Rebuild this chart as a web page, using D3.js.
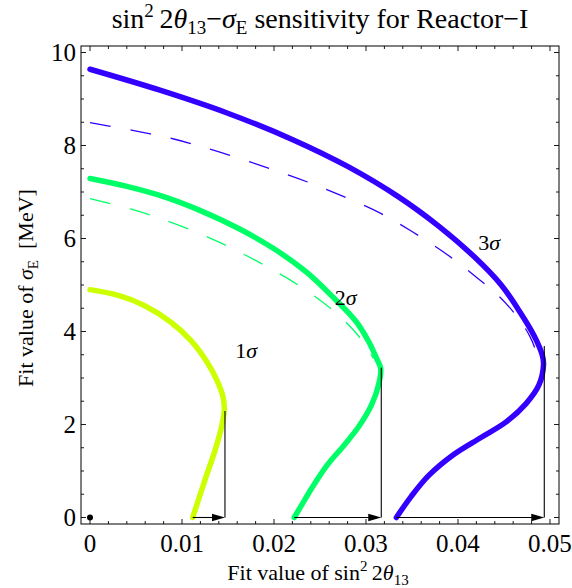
<!DOCTYPE html>
<html>
<head>
<meta charset="utf-8">
<script src="https://cdn.jsdelivr.net/npm/d3@7"></script>
<style>
  body { margin: 0; background: #fff; }
</style>
</head>
<body>
<div id="chart"></div>
<script>
// curves: [sin^2 2theta13, sigma_E]
const sig1 = [[0, 4.9], [0.003, 4.78], [0.006, 4.55], [0.0088, 4.2], [0.011, 3.8], [0.0127, 3.35], [0.0138, 2.95], [0.01445, 2.6], [0.0146, 2.32], [0.0143, 1.95], [0.0136, 1.45], [0.0125, 0.81], [0.01116, 0]]
const sig2 = [[0, 7.29], [0.004, 7.12], [0.008, 6.9], [0.012, 6.6], [0.016, 6.23], [0.02, 5.78], [0.0235, 5.28], [0.0263, 4.76], [0.0289, 4.22], [0.0303, 3.78], [0.0312, 3.4], [0.0316, 3.2], [0.0314, 2.88], [0.0306, 2.42], [0.0292, 1.95], [0.0276, 1.55], [0.0258, 1.13], [0.0242, 0.66], [0.0231, 0.3], [0.0222, 0]]
const sig3 = [[0, 9.64], [0.0076, 9.19], [0.0149, 8.7], [0.0221, 8.12], [0.028, 7.55], [0.0335, 6.9], [0.038, 6.25], [0.0418, 5.6], [0.0447, 5.0], [0.0468, 4.4], [0.0483, 3.9], [0.04915, 3.5], [0.0493, 3.3], [0.0488, 2.85], [0.0474, 2.45], [0.0452, 2.05], [0.0425, 1.72], [0.0395, 1.35], [0.0368, 0.9], [0.0349, 0.45], [0.0333, 0]]
const dash2 = [[0, 6.86], [0.0045, 6.63], [0.0075, 6.44], [0.011, 6.18], [0.015, 5.83], [0.019, 5.42], [0.0228, 4.98], [0.026, 4.52], [0.0284, 4.08], [0.0299, 3.72], [0.0308, 3.42]]
const dash3 = [[0, 8.49], [0.0045, 8.33], [0.0091, 8.14], [0.0134, 7.9], [0.0181, 7.6], [0.0225, 7.3], [0.027, 6.95], [0.0315, 6.55], [0.035, 6.15], [0.0385, 5.7], [0.0418, 5.2], [0.0445, 4.75], [0.0465, 4.3], [0.0478, 3.9], [0.0486, 3.5], [0.0488, 3.3]]
// vertical marker at the largest fit value, arrow from curve foot
const maxX = [0.01467, 0.03166, 0.04938]
const maxY = [2.29, 3.22, 3.69]
const footX = [0.01116, 0.0222, 0.0333]
const labels = ['1σ', '2σ', '3σ']
const labelPos = [[0.0158, 3.43], [0.0266, 4.57], [0.0422, 5.75]]
const colors = ['#ccff00', '#00ff66', '#3300ff']
const xTicks = [0, 0.01, 0.02, 0.03, 0.04, 0.05]
const yTicks = [0, 2, 4, 6, 8, 10]

const width = 572
const height = 588

const svg = d3.select('#chart').append('svg')
  .attr('width', width)
  .attr('height', height)
  .attr('font-family', "'Liberation Serif', 'Times New Roman', serif")

const x = d3.scaleLinear().domain([-0.00098, 0.05098]).range([81, 559])
const y = d3.scaleLinear().domain([-0.14, 10.14]).range([524, 46])

const line = d3.line()
  .x((d) => x(d[0]))
  .y((d) => y(d[1]))
  .curve(d3.curveCatmullRom.alpha(0.5))

// frame + inward ticks on all sides
const [x0, x1] = x.range()
const [y0, y1] = y.range()
svg.append('rect')
  .attr('x', x0).attr('y', y1)
  .attr('width', x1 - x0).attr('height', y0 - y1)
  .attr('fill', 'none').attr('stroke', '#000').attr('stroke-width', 1)

const xMinor = d3.range(0, 0.0501, 0.002)
const yMinor = d3.range(0, 10.01, 0.5)
const tk = svg.append('g').attr('stroke', '#000').attr('stroke-width', 0.9)
xMinor.forEach((v) => {
  const major = xTicks.some((t) => Math.abs(t - v) < 1e-6)
  const len = major ? 5 : 3
  tk.append('line').attr('x1', x(v)).attr('x2', x(v)).attr('y1', y0).attr('y2', y0 - len)
  tk.append('line').attr('x1', x(v)).attr('x2', x(v)).attr('y1', y1).attr('y2', y1 + len)
})
yMinor.forEach((v) => {
  const major = yTicks.some((t) => Math.abs(t - v) < 1e-6)
  const len = major ? 5 : 3
  tk.append('line').attr('y1', y(v)).attr('y2', y(v)).attr('x1', x0).attr('x2', x0 + len)
  tk.append('line').attr('y1', y(v)).attr('y2', y(v)).attr('x1', x1).attr('x2', x1 - len)
})

svg.selectAll('.xl').data(xTicks).join('text')
  .attr('x', (d) => x(d)).attr('y', 552)
  .attr('text-anchor', 'middle').attr('font-size', 25)
  .text((d) => (d === 0 ? '0' : d3.format('.2f')(d)))

svg.selectAll('.yl').data(yTicks).join('text')
  .attr('x', 76).attr('y', (d) => y(d) + 8.5)
  .attr('text-anchor', 'end').attr('font-size', 25)
  .text((d) => d)

// dashed curves
;[dash2, dash3].forEach((d, i) => {
  svg.append('path')
    .attr('d', line(d))
    .attr('fill', 'none')
    .attr('stroke', colors[i + 1])
    .attr('stroke-width', 1.3)
    .attr('stroke-dasharray', '21,20')
})

// thick curves
;[sig1, sig2, sig3].forEach((d, i) => {
  svg.append('path')
    .attr('d', line(d))
    .attr('fill', 'none')
    .attr('stroke', colors[i])
    .attr('stroke-width', 5.5)
    .attr('stroke-linecap', 'round')
    .attr('stroke-linejoin', 'round')
})

// markers: vertical line and arrow along sigma_E = 0
maxX.forEach((m, i) => {
  svg.append('line')
    .attr('x1', x(m)).attr('x2', x(m))
    .attr('y1', y(0)).attr('y2', y(maxY[i]))
    .attr('stroke', '#000').attr('stroke-width', 1.1)
  svg.append('line')
    .attr('x1', x(footX[i])).attr('x2', x(m) - 8)
    .attr('y1', y(0)).attr('y2', y(0))
    .attr('stroke', '#000').attr('stroke-width', 1.1)
  const tx = x(m)
  const ty = y(0)
  svg.append('path')
    .attr('d', `M${tx},${ty} L${tx - 13},${ty - 3.8} L${tx - 13},${ty + 3.8} Z`)
    .attr('fill', '#000')
})

svg.append('circle')
  .attr('cx', x(0)).attr('cy', y(0)).attr('r', 3)
  .attr('fill', '#000')

labels.forEach((t, i) => {
  const txt = svg.append('text')
    .attr('x', x(labelPos[i][0])).attr('y', y(labelPos[i][1]))
    .attr('font-size', 22)
  txt.append('tspan').text(t[0])
  txt.append('tspan').attr('font-style', 'italic').text(t[1])
})

// title
const title = svg.append('text')
  .attr('x', 320).attr('y', 28)
  .attr('text-anchor', 'middle').attr('font-size', 28)
title.append('tspan').text('sin')
title.append('tspan').attr('font-size', 19).attr('dy', -11).text('2')
title.append('tspan').attr('dy', 11).text('\u20092')
title.append('tspan').attr('font-style', 'italic').text('θ')
title.append('tspan').attr('font-size', 19).attr('dy', 6).text('13')
title.append('tspan').attr('dy', -6).text('−')
title.append('tspan').attr('font-style', 'italic').text('σ')
title.append('tspan').attr('font-size', 19).attr('dy', 6).text('E')
title.append('tspan').attr('dy', -6).text(' sensitivity for Reactor−I')

// x label
const xl = svg.append('text')
  .attr('x', 318).attr('y', 580)
  .attr('text-anchor', 'middle').attr('font-size', 22)
xl.append('tspan').text('Fit value of sin')
xl.append('tspan').attr('font-size', 15).attr('dy', -9).text('2')
xl.append('tspan').attr('dy', 9).text('\u20092')
xl.append('tspan').attr('font-style', 'italic').text('θ')
xl.append('tspan').attr('font-size', 15).attr('dy', 5).text('13')

// y label
const yl = svg.append('text')
  .attr('transform', 'translate(33,288) rotate(-90)')
  .attr('text-anchor', 'middle').attr('font-size', 22)
yl.append('tspan').text('Fit value of ')
yl.append('tspan').attr('font-style', 'italic').text('σ')
yl.append('tspan').attr('font-size', 15).attr('dy', 5).text('E')
yl.append('tspan').attr('dy', -5).text('\u2002[MeV]')
</script>
</body>
</html>
